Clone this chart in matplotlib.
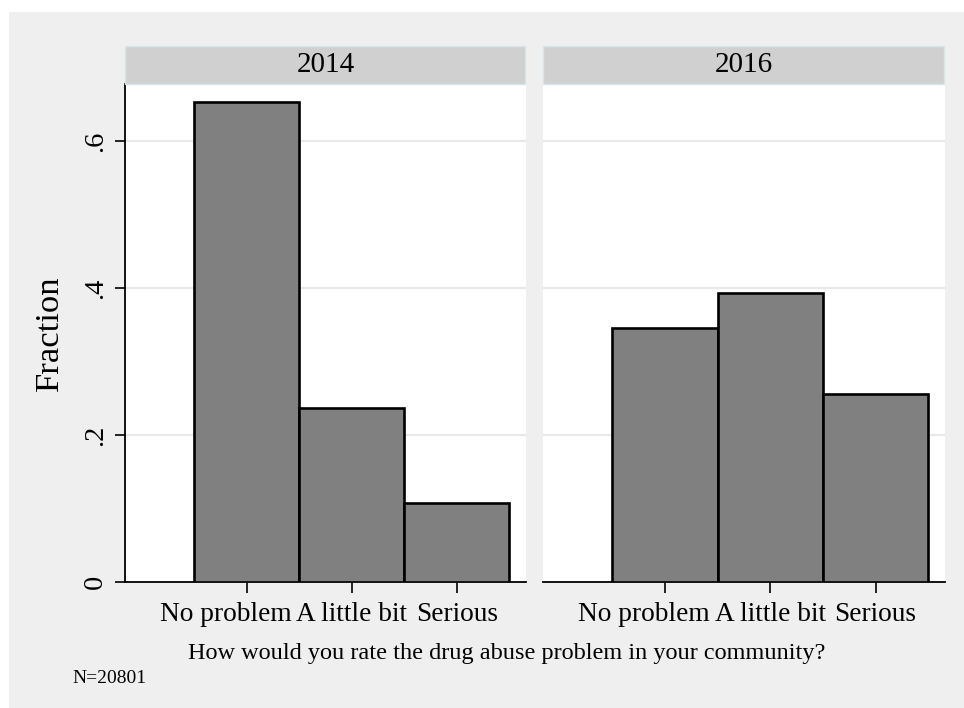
import matplotlib
matplotlib.use("Agg")
import matplotlib.pyplot as plt
from matplotlib.patches import Rectangle
from matplotlib.transforms import ScaledTranslation

plt.rcParams['font.family'] = ['Liberation Serif', 'DejaVu Serif']

categories = ["No problem", "A little bit", "Serious"]
years = ["2014", "2016"]
fractions_2014 = [0.653, 0.237, 0.1075]
fractions_2016 = [0.3456, 0.3932, 0.2558]
series = [fractions_2014, fractions_2016]
y_ticks = [0, 0.2, 0.4, 0.6]
y_tick_labels = ["0", ".2", ".4", ".6"]
x_title = "How would you rate the drug abuse problem in your community?"
y_title = "Fraction"
note = "N=20801"

W, H = 964, 708
fig = plt.figure(figsize=(W / 100, H / 100), dpi=100)
fig.patch.set_facecolor("white")

def fx(px):
    return px / W

def fy(py):
    return 1 - py / H

# gray outer background
fig.patches.append(Rectangle((fx(9), 0), 1 - fx(9), fy(12), transform=fig.transFigure,
                             facecolor="#efefef", edgecolor="none", zorder=-10))

panels = [(125, 526), (543, 945)]
top_px, bot_px = 84, 582.3
positions = [1, 2, 3]

for i, ((x0, x1), yr, vals) in enumerate(zip(panels, years, series)):
    ax = fig.add_axes([fx(x0), fy(bot_px), fx(x1 - x0), (bot_px - top_px) / H])
    ax.set_zorder(1)
    ax.set_facecolor("white")
    ax.bar(positions, vals, width=1.0, color="#808080", edgecolor="black",
           linewidth=1.9, zorder=3)
    ax.set_xlim(-0.159, 3.66)
    ax.set_ylim(0, 0.6776)
    for t in y_ticks[1:]:
        ax.axhline(t, color="#e8e8e8", lw=1.6, zorder=1)
    for s in ["top", "right"]:
        ax.spines[s].set_visible(False)
    ax.spines["bottom"].set_linewidth(1.3)
    ax.spines["left"].set_linewidth(1.3)
    ax.set_xticks(positions)
    ax.set_xticklabels(categories, fontsize=19.7)
    ax.tick_params(axis="x", length=8, width=1.2, pad=6)
    # first label sits shifted left in the reference
    lab0 = ax.get_xticklabels()[0]
    lab0.set_transform(lab0.get_transform() + ScaledTranslation(-0.21, 0, fig.dpi_scale_trans))
    ax.set_yticks(y_ticks)
    if i == 0:
        ax.set_yticklabels(y_tick_labels, fontsize=20.5, rotation=90, va="center")
        ax.tick_params(axis="y", length=7.5, width=1.2, pad=5)
    else:
        ax.spines["left"].set_visible(False)
        ax.tick_params(axis="y", left=False, labelleft=False)
    # header strip
    fig.patches.append(Rectangle((fx(x0), fy(84)), fx(x1 - x0 - 1), (84 - 46) / H,
                                 transform=fig.transFigure, facecolor="#d0d0d0",
                                 edgecolor="#d8e6ea", lw=1.0, zorder=1))
    fig.text(fx((x0 + x1) / 2), fy(65), yr, ha="center", va="center", fontsize=21)

fig.text(fx(50), fy(333), y_title, rotation=90, ha="center", va="center", fontsize=24.8)
fig.text(fx(507), fy(659), x_title, ha="center", va="baseline", fontsize=17.5)
fig.text(fx(72), fy(683), note, ha="left", va="baseline", fontsize=14)

fig.savefig("out.png", dpi=100)
